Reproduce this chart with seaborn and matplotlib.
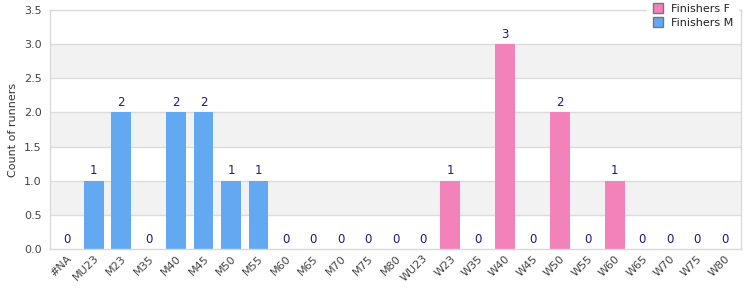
import matplotlib
matplotlib.use("Agg")
import matplotlib.pyplot as plt
import seaborn as sns
import pandas as pd
from matplotlib.lines import Line2D

categories = ["#NA", "MU23", "M23", "M35", "M40", "M45", "M50", "M55", "M60", "M65",
              "M70", "M75", "M80", "WU23", "W23", "W35", "W40", "W45", "W50", "W55",
              "W60", "W65", "W70", "W75", "W80"]
finishers_m = [0, 1, 2, 0, 2, 2, 1, 1, 0, 0, 0, 0, 0, 0, 0, 0, 0, 0, 0, 0, 0, 0, 0, 0, 0]
finishers_f = [0, 0, 0, 0, 0, 0, 0, 0, 0, 0, 0, 0, 0, 0, 1, 0, 3, 0, 2, 0, 1, 0, 0, 0, 0]
series_names = ["Finishers F", "Finishers M"]
y_label = "Count of runners"

col_f = "#f282b9"
col_m = "#62a9f2"
lab_col = "#1a1a80"

sns.set_style("white")
plt.rcParams['font.family'] = ['DejaVu Sans']

vals = []
groups = []
for c, m, f in zip(categories, finishers_m, finishers_f):
    if f > 0:
        vals.append(f); groups.append("F")
    else:
        vals.append(m); groups.append("M")
df = pd.DataFrame({"cat": categories, "val": vals, "grp": groups})

fig = plt.figure(figsize=(7.5, 3), dpi=100)
ax = fig.add_axes([0.0667, 0.17, 0.9213, 0.797])

# background bands
for lo in [0.5, 1.5, 2.5]:
    ax.axhspan(lo, lo + 0.5, color="#f2f2f2", zorder=0, lw=0)

sns.barplot(data=df, x="cat", y="val", hue="grp", order=categories,
            palette={"F": col_f, "M": col_m}, dodge=False, width=0.72,
            ax=ax, legend=False, zorder=2, saturation=1, linewidth=0, edgecolor="none")

for y in [0.5, 1, 1.5, 2, 2.5, 3]:
    ax.axhline(y, color="#dcdcdc", lw=1, zorder=1)

for i, v in enumerate(vals):
    ax.text(i, v + 0.05, str(v), ha="center", va="bottom", fontsize=8.5, color=lab_col, zorder=3)

ax.set_xlim(-0.6, len(categories) - 0.4)
ax.set_ylim(0, 3.5)
ax.set_yticks([0, 0.5, 1, 1.5, 2, 2.5, 3, 3.5])
ax.set_yticklabels([f"{t:.1f}" for t in [0, 0.5, 1, 1.5, 2, 2.5, 3, 3.5]])
ax.set_xlabel("")
ax.set_ylabel(y_label, fontsize=8, color="#333333")
ax.tick_params(axis="y", labelsize=8, labelcolor="#444444", length=0, pad=6)
ax.tick_params(axis="x", labelsize=8, labelcolor="#444444", length=0, pad=3)
plt.setp(ax.get_xticklabels(), rotation=45, ha="right", rotation_mode="anchor")

for s in ax.spines.values():
    s.set_color("#d9d9d9")
    s.set_linewidth(1)

handles = [Line2D([], [], marker="s", linestyle="", markersize=6.5,
                  markerfacecolor=col_f, markeredgecolor="#777777"),
           Line2D([], [], marker="s", linestyle="", markersize=6.5,
                  markerfacecolor=col_m, markeredgecolor="#777777")]
leg = fig.legend(handles, series_names, loc="upper left", bbox_to_anchor=(0.855, 1.02),
                 fontsize=8, frameon=True, handletextpad=0.6, labelspacing=0.35,
                 borderpad=0.4, handlelength=1.2)
leg.get_frame().set_facecolor("white")
leg.get_frame().set_edgecolor("white")
leg.get_frame().set_alpha(1)
leg.set_zorder(10)
for t in leg.get_texts():
    t.set_color("#222222")

fig.savefig("out.png", dpi=100)
